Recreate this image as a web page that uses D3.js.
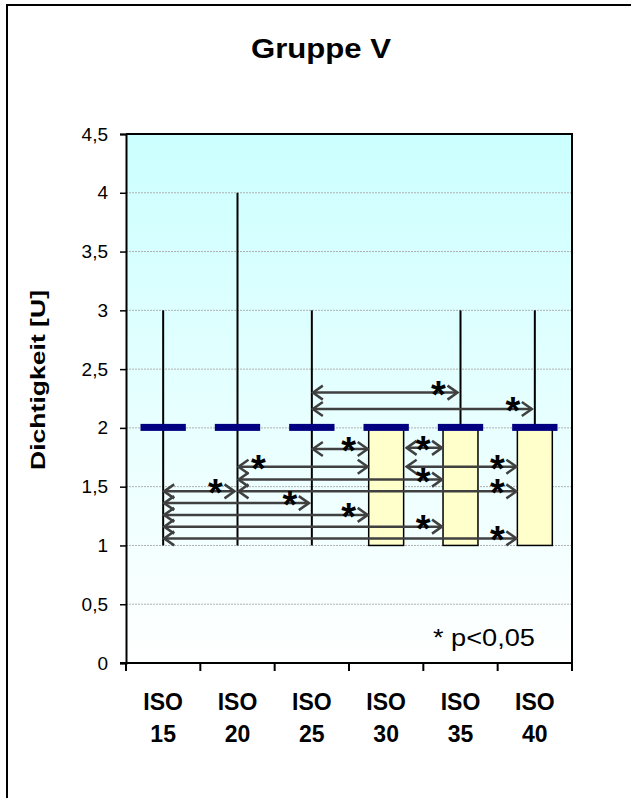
<!DOCTYPE html>
<html>
<head>
<meta charset="utf-8">
<script src="https://cdn.jsdelivr.net/npm/d3@7"></script>
<style>
  html, body { margin: 0; padding: 0; background: #fff; }
  svg { display: block; font-family: "Liberation Sans", Arial, sans-serif; }
</style>
</head>
<body>
<div id="chart"></div>
<script>
// ── Daten ────────────────────────────────────────────────────────────────
const categories = ['ISO 15', 'ISO 20', 'ISO 25', 'ISO 30', 'ISO 35', 'ISO 40'];
const minVals    = [1, 1, 1, 1, 1, 1];
const q1Vals     = [2, 2, 2, 1, 1, 1];
const medianVals = [2, 2, 2, 2, 2, 2];
const q3Vals     = [2, 2, 2, 2, 2, 2];
const maxVals    = [3, 4, 3, 2, 3, 3];
const yTicks     = [0, 0.5, 1, 1.5, 2, 2.5, 3, 3.5, 4, 4.5];

// signifikante Vergleiche (Index Gruppe von → nach, Höhe in U)
const compFrom  = [2, 2, 2, 3, 1, 3, 1, 1, 0, 0, 0, 0, 0];
const compTo    = [4, 5, 3, 4, 3, 5, 4, 5, 1, 2, 3, 4, 5];
const compLevel = [2.30, 2.16, 1.82, 1.83, 1.67, 1.67, 1.56, 1.46, 1.46, 1.36, 1.26, 1.16, 1.06];
const starAtStart = [false, false, false, false, true, false, false, false, false, false, false, false, false];

const title = 'Gruppe V';
const yLabel = 'Dichtigkeit [U]';
const note = '* p<0,05';

// ── Aufbau ───────────────────────────────────────────────────────────────
const W = 631, H = 798;
const M = { left: 126, right: 572, top: 134, bottom: 663 };

const svg = d3.select('#chart').append('svg').attr('width', W).attr('height', H);

// Rahmen aussen
svg.append('rect').attr('x', 7).attr('y', 5).attr('width', 640).attr('height', 820)
  .attr('fill', '#fff').attr('stroke', '#000').attr('stroke-width', 2);

const x = d3.scaleBand().domain(categories).range([M.left, M.right]).padding(0);
const y = d3.scaleLinear().domain([0, 4.5]).range([M.bottom, M.top]);

// Hintergrund-Verlauf
const defs = svg.append('defs');
const grad = defs.append('linearGradient').attr('id', 'bg').attr('x1', 0).attr('y1', 0).attr('x2', 0).attr('y2', 1);
grad.append('stop').attr('offset', '0%').attr('stop-color', '#ccffff');
grad.append('stop').attr('offset', '100%').attr('stop-color', '#ffffff');

const mk = defs.append('marker').attr('id', 'arr')
  .attr('markerUnits', 'userSpaceOnUse').attr('viewBox', '-2 -10 14 20')
  .attr('markerWidth', 14).attr('markerHeight', 20)
  .attr('refX', 10).attr('refY', 0).attr('orient', 'auto-start-reverse');
mk.append('path').attr('d', 'M0,-7 L10,0 L0,7').attr('fill', 'none')
  .attr('stroke', '#404040').attr('stroke-width', 2.5);

svg.append('rect').attr('x', M.left).attr('y', M.top)
  .attr('width', M.right - M.left).attr('height', M.bottom - M.top)
  .attr('fill', 'url(#bg)');

// Gitternetz
svg.append('g').selectAll('line').data(yTicks.filter(d => d > 0)).enter().append('line')
  .attr('x1', M.left).attr('x2', M.right)
  .attr('y1', d => y(d)).attr('y2', d => y(d))
  .attr('stroke', '#b0b0b0').attr('stroke-width', 1).attr('stroke-dasharray', '2,1');

// Plotrahmen oben/rechts
svg.append('path')
  .attr('d', `M${M.left},${M.top}H${M.right}V${M.bottom}`)
  .attr('fill', 'none').attr('stroke', '#000').attr('stroke-width', 2);

// Y-Achse
const yAxis = svg.append('g').attr('transform', `translate(${M.left},0)`)
  .call(d3.axisLeft(y).tickValues(yTicks).tickSize(6).tickPadding(12)
    .tickFormat(d => String(d).replace('.', ',')));
yAxis.select('.domain').attr('stroke', '#000').attr('stroke-width', 2);
yAxis.selectAll('.tick line').attr('stroke', '#000').attr('stroke-width', 1.5);
yAxis.selectAll('.tick text').attr('font-size', '19px').attr('fill', '#000')
  .attr('font-family', '"Liberation Sans", Arial, sans-serif');

// X-Achse
svg.append('line').attr('x1', M.left - 6).attr('x2', M.right)
  .attr('y1', M.bottom).attr('y2', M.bottom).attr('stroke', '#000').attr('stroke-width', 2);
const bounds = categories.map(c => x(c)).concat([M.right]);
svg.append('g').selectAll('line').data(bounds).enter().append('line')
  .attr('x1', d => d).attr('x2', d => d).attr('y1', M.bottom).attr('y2', M.bottom + 8)
  .attr('stroke', '#000').attr('stroke-width', 2);

const xl = svg.append('g').selectAll('text').data(categories).enter().append('text')
  .attr('x', d => x(d) + x.bandwidth() / 2)
  .attr('text-anchor', 'middle').attr('font-size', '23px').attr('font-weight', 'bold');
xl.append('tspan').attr('x', d => x(d) + x.bandwidth() / 2).attr('y', 710).text(d => d.split(' ')[0]);
xl.append('tspan').attr('x', d => x(d) + x.bandwidth() / 2).attr('y', 742).text(d => d.split(' ')[1]);

// Boxplots
const cx = i => x(categories[i]) + x.bandwidth() / 2;
const boxW = x.bandwidth() * 0.47;
const medW = x.bandwidth() * 0.61;

const g = svg.append('g');
categories.forEach((c, i) => {
  g.append('line').attr('x1', cx(i)).attr('x2', cx(i))
    .attr('y1', y(minVals[i])).attr('y2', y(maxVals[i]))
    .attr('stroke', '#000').attr('stroke-width', 2);
  if (q3Vals[i] > q1Vals[i]) {
    g.append('rect').attr('x', cx(i) - boxW / 2).attr('y', y(q3Vals[i]))
      .attr('width', boxW).attr('height', y(q1Vals[i]) - y(q3Vals[i]))
      .attr('fill', '#ffffcc').attr('stroke', '#000').attr('stroke-width', 1.5);
  }
  g.append('rect').attr('x', cx(i) - medW / 2).attr('y', y(medianVals[i]) - 4)
    .attr('width', medW).attr('height', 7).attr('fill', '#000080');
});

// Vergleichspfeile
const hasBox = (i, v) => q3Vals[i] > q1Vals[i] && v >= q1Vals[i] && v <= q3Vals[i];
const ag = svg.append('g');
compFrom.forEach((f, k) => {
  const t = compTo[k], v = compLevel[k], yy = y(v);
  const x1 = hasBox(f, v) ? cx(f) + boxW / 2 + 3 : cx(f) + 1;
  const x2 = hasBox(t, v) ? cx(t) - boxW / 2 - 1 : cx(t) - 3;
  ag.append('line').attr('x1', x1).attr('x2', x2).attr('y1', yy).attr('y2', yy)
    .attr('stroke', '#404040').attr('stroke-width', 2.5)
    .attr('marker-start', 'url(#arr)').attr('marker-end', 'url(#arr)');
  ag.append('text').attr('x', starAtStart[k] ? x1 + 20 : x2 - 19).attr('y', yy + 15)
    .attr('text-anchor', 'middle').attr('font-size', '38px').attr('font-weight', 'bold')
    .attr('fill', '#000').text('*');
});

// Texte
svg.append('text').attr('x', 321).attr('y', 58).attr('text-anchor', 'middle')
  .attr('font-size', '28px').attr('font-weight', 'bold')
  .attr('textLength', 140).attr('lengthAdjust', 'spacingAndGlyphs').text(title);
svg.append('text').attr('transform', 'translate(45,380) rotate(-90)')
  .attr('text-anchor', 'middle').attr('font-size', '21px').attr('font-weight', 'bold')
  .attr('textLength', 180).attr('lengthAdjust', 'spacingAndGlyphs').text(yLabel);
svg.append('text').attr('x', 433).attr('y', 646).attr('font-size', '23px')
  .attr('textLength', 102).attr('lengthAdjust', 'spacingAndGlyphs').text(note);
</script>
</body>
</html>
